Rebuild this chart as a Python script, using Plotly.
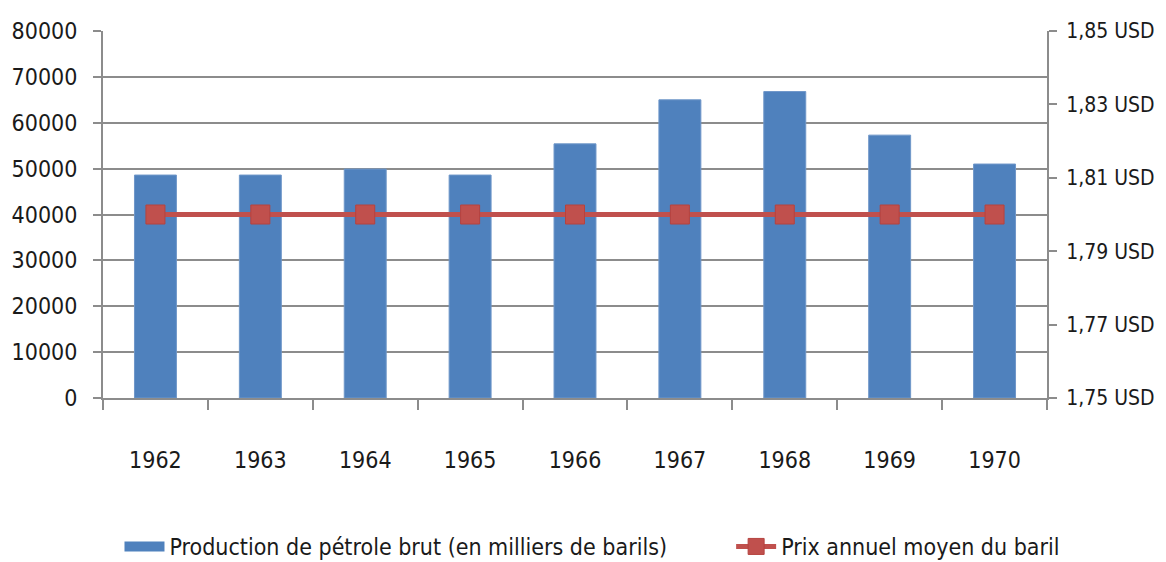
import plotly.graph_objects as go

years = ["1962", "1963", "1964", "1965", "1966", "1967", "1968", "1969", "1970"]
production = [48600, 48600, 49900, 48600, 55400, 65000, 66800, 57300, 51000]
price = [1.80, 1.80, 1.80, 1.80, 1.80, 1.80, 1.80, 1.80, 1.80]

prod_name = "Production de pétrole brut (en milliers de barils)"
price_name = "Prix annuel moyen du baril"

FONT = "DejaVu Sans Condensed, Liberation Sans Narrow, sans-serif"
GRID = "#8c8c8c"
BLUE = "#4f81bd"
RED = "#c0504d"

fig = go.Figure()
fig.add_trace(go.Bar(
    x=years, y=production, name=prod_name, showlegend=False,
    marker=dict(color=BLUE, line=dict(color="#6f97c9", width=1)), width=0.4, yaxis="y",
))
# legend proxy for the bars (wide rectangle swatch)
fig.add_trace(go.Scatter(
    x=[years[0]], y=[None], name=prod_name + "\u00a0" * 9, mode="lines",
    line=dict(color=BLUE, width=14), yaxis="y", hoverinfo="skip",
))
fig.add_trace(go.Scatter(
    x=years, y=price, name=price_name, yaxis="y2",
    mode="lines+markers",
    line=dict(color=RED, width=5),
    marker=dict(symbol="square", size=19, color=RED, line=dict(color="#b5423f", width=1)),
))

# page body has an 8px margin: compensate so the plot area sits where the reference has it
fig.update_layout(
    width=1158, height=554,
    margin=dict(l=95, r=119, t=23, b=164, autoexpand=False),
    paper_bgcolor="white", plot_bgcolor="white",
    font=dict(family=FONT, size=23, color="#1a1a1a"),
    separators=", ",
    showlegend=True,
    legend=dict(orientation="h", x=0.518, xanchor="center",
                y=-0.346, yanchor="top",
                font=dict(size=23), tracegroupgap=0, itemwidth=40),
    xaxis=dict(type="category", range=[-0.5, 8.5], tickson="boundaries", ticks="outside",
               ticklen=10, tickcolor=GRID, tickwidth=2, showline=True, linecolor=GRID,
               linewidth=2, showgrid=False, ticklabelstandoff=40, automargin=False),
    yaxis=dict(range=[0, 80000], dtick=10000, tickformat="d", showgrid=True,
               gridcolor=GRID, gridwidth=2, ticks="outside", ticklen=8, tickcolor=GRID,
               tickwidth=2, showline=True, linecolor=GRID, linewidth=2, zeroline=False,
               ticklabelstandoff=11, automargin=False),
    yaxis2=dict(range=[1.75, 1.85], tick0=1.75, dtick=0.02, tickformat=".2f", ticksuffix=" USD",
                overlaying="y", side="right", showgrid=False, ticks="outside",
                ticklen=8, tickcolor=GRID, tickwidth=2, showline=True, linecolor=GRID,
                linewidth=2, zeroline=False, ticklabelstandoff=5, automargin=False,
                tickfont=dict(size=21)),
    bargap=0.6,
)

fig.write_html("out.html")
